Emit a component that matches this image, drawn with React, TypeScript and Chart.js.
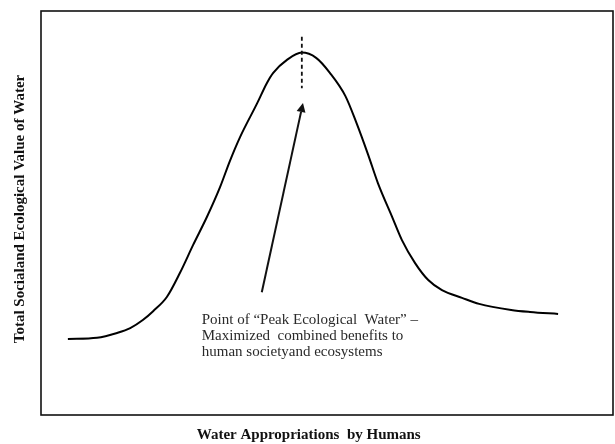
import { useEffect, useRef } from "react";
import { Chart, registerables } from "chart.js";

Chart.register(...registerables);

// Curve (x: water appropriations, y: total value), both on a 0-100 scale
const X_VALUES = [4.7, 9.8, 13.3, 15.6, 17.8, 19.6, 22.0, 24.3, 26.6, 29.0, 31.3, 33.0, 34.8, 37.8, 39.5, 40.6, 43.0, 45.6, 48.1, 50.5, 53.2, 55.1, 57.2, 58.9, 61.4, 63.1, 65.4, 67.7, 70.1, 73.6, 76.6, 82.2, 85.5, 90.4];
const Y_VALUES = [18.8, 19.1, 20.3, 21.5, 23.5, 25.7, 29.2, 35.2, 42.1, 49.0, 56.4, 62.8, 68.8, 77.2, 82.2, 84.7, 87.9, 89.7, 88.4, 84.7, 79.0, 72.5, 64.4, 57.4, 49.0, 43.3, 37.6, 33.4, 30.9, 29.0, 27.5, 26.0, 25.5, 25.0];

const PEAK_X = 45.6;
const PEAK_MARK_RANGE = [80.9, 93.6];
const ARROW_FROM = [38.6, 30.4];
const ARROW_TO = [45.8, 77.2];
const NOTE_POS = [28.1, 22.5];
const NOTE_LINES = [
  "Point of \u201cPeak Ecological  Water\u201d \u2013",
  "Maximized  combined benefits to",
  "human societyand ecosystems",
];
const X_TITLE = "Water Appropriations  by Humans";
const Y_TITLE = "Total Socialand Ecological Value of Water";
const X_TITLE_CENTER = 46.8; // in x-axis units
const TITLE_FONT = "bold 15px 'Liberation Serif'";

const annotations = {
  id: "annotations",
  afterDraw(chart: any) {
    const { ctx, chartArea, scales } = chart;
    const xs = scales.x;
    const ys = scales.y;
    ctx.save();
    // frame
    ctx.strokeStyle = "#111";
    ctx.lineWidth = 1.6;
    ctx.strokeRect(chartArea.left, chartArea.top, chartArea.right - chartArea.left, chartArea.bottom - chartArea.top);

    // dashed peak marker
    const px = xs.getPixelForValue(PEAK_X);
    ctx.setLineDash([4, 3]);
    ctx.lineWidth = 1.8;
    ctx.beginPath();
    ctx.moveTo(px, ys.getPixelForValue(PEAK_MARK_RANGE[1]));
    ctx.lineTo(px, ys.getPixelForValue(PEAK_MARK_RANGE[0]));
    ctx.stroke();
    ctx.setLineDash([]);

    // arrow
    const x1 = xs.getPixelForValue(ARROW_FROM[0]);
    const y1 = ys.getPixelForValue(ARROW_FROM[1]);
    const x2 = xs.getPixelForValue(ARROW_TO[0]);
    const y2 = ys.getPixelForValue(ARROW_TO[1]);
    const ang = Math.atan2(y2 - y1, x2 - x1);
    const headLen = 9;
    const headW = 4.5;
    const bx = x2 - headLen * Math.cos(ang);
    const by = y2 - headLen * Math.sin(ang);
    ctx.lineWidth = 2;
    ctx.beginPath();
    ctx.moveTo(x1, y1);
    ctx.lineTo(bx, by);
    ctx.stroke();
    ctx.fillStyle = "#111";
    ctx.beginPath();
    ctx.moveTo(x2, y2);
    ctx.lineTo(bx + headW * Math.sin(ang), by - headW * Math.cos(ang));
    ctx.lineTo(bx - headW * Math.sin(ang), by + headW * Math.cos(ang));
    ctx.closePath();
    ctx.fill();

    // note text
    ctx.fillStyle = "#2a2a2a";
    ctx.font = "15px 'Liberation Serif'";
    ctx.textAlign = "left";
    ctx.textBaseline = "alphabetic";
    const tx = xs.getPixelForValue(NOTE_POS[0]);
    const ty = ys.getPixelForValue(NOTE_POS[1]);
    NOTE_LINES.forEach((line, i) => ctx.fillText(line, tx, ty + i * 16));

    // axis titles
    ctx.fillStyle = "#111";
    ctx.font = TITLE_FONT;
    ctx.textAlign = "center";
    ctx.textBaseline = "middle";
    ctx.fillText(X_TITLE, xs.getPixelForValue(X_TITLE_CENTER), chartArea.bottom + 20);
    ctx.translate(chartArea.left - 21, ys.getPixelForValue(50) - 4);
    ctx.rotate(-Math.PI / 2);
    ctx.fillText(Y_TITLE, 0, 0);
    ctx.restore();
  },
};

export default function App() {
  const ref = useRef<HTMLCanvasElement | null>(null);
  useEffect(() => {
    if (!ref.current) return;
    const chart = new Chart(ref.current, {
      type: "line",
      data: {
        datasets: [
          {
            data: X_VALUES.map((x, i) => ({ x, y: Y_VALUES[i] })),
            borderColor: "#000",
            borderWidth: 2,
            pointRadius: 0,
            cubicInterpolationMode: "monotone",
            fill: false,
          },
        ],
      },
      plugins: [annotations],
      options: {
        animation: false,
        responsive: false,
        layout: { padding: { top: 11, right: 2, left: 41, bottom: 29 } },
        plugins: { legend: { display: false }, tooltip: { enabled: false } },
        scales: {
          x: { type: "linear", min: 0, max: 100, display: false },
          y: { type: "linear", min: 0, max: 100, display: false },
        },
      },
    });
    return () => chart.destroy();
  }, []);
  return (
    <div style={{ position: "absolute", left: 0, top: 0, width: 615, height: 444, background: "#fff" }}>
      <canvas ref={ref} width={615} height={444} style={{ width: 615, height: 444 }} />
    </div>
  );
}
